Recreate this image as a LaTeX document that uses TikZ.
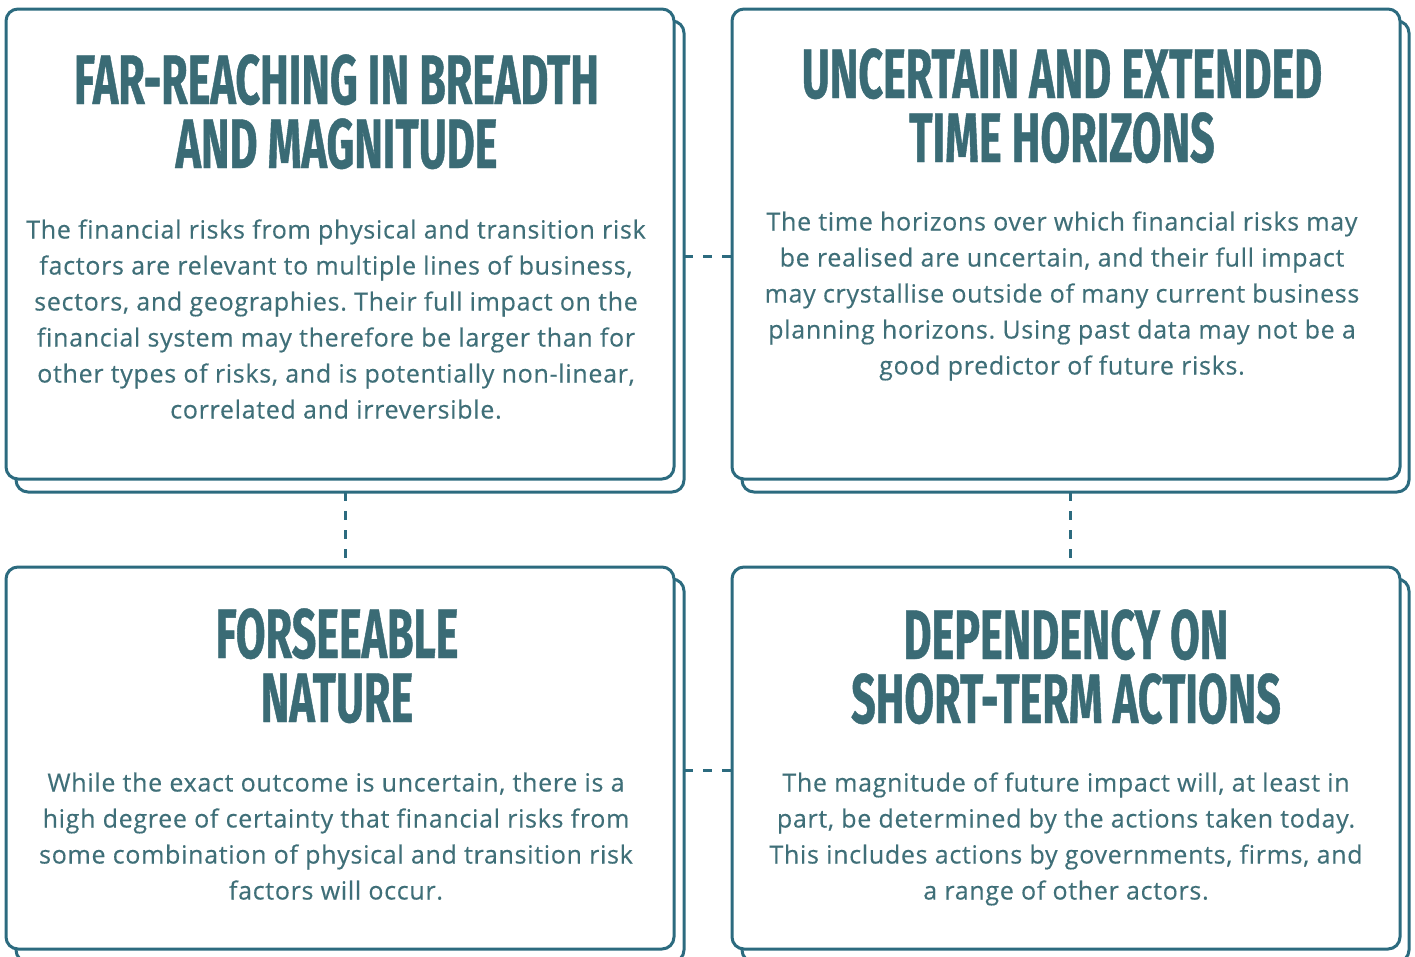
\documentclass[tikz,border=0pt]{standalone}
\usepackage{fontspec}
\setmainfont{Open Sans}[Ligatures=NoCommon, LetterSpace=2.8, FakeBold=0.3]
\newfontfamily\titlefont{Fira Sans}[FakeStretch=0.615, FakeBold=0.6]
\usetikzlibrary{calc}
\frenchspacing
\definecolor{boxline}{HTML}{2C6B7F}
\definecolor{titlecol}{HTML}{3A6B75}
\definecolor{bodycol}{HTML}{3F6F78}
\tikzset{
  card/.style={draw=boxline, line width=3pt, rounded corners=12pt, fill=white,
    inner sep=0pt, outer sep=0pt, rectangle},
  conn/.style={draw=boxline, line width=3pt, dash pattern=on 9pt off 10pt},
  ttl/.style={anchor=base, text=titlecol, font=\titlefont\bfseries\fontsize{70}{64}\selectfont, inner sep=0pt},
  bdy/.style={anchor=base, text=bodycol, font=\fontsize{25}{36}\selectfont, inner sep=0pt},
}
\begin{document}
\begin{tikzpicture}[x=1pt,y=-1pt]
\useasboundingbox (0,0) rectangle (1415,956);
% back cards
\node[card, minimum width=668pt, minimum height=471pt] (b1) at (350,256.5) {};
\node[card, minimum width=667pt, minimum height=471pt] (b2) at (1075.5,256.5) {};
\node[card, minimum width=668pt, minimum height=383pt] (b3) at (350,770.5) {};
\node[card, minimum width=667pt, minimum height=383pt] (b4) at (1075.5,770.5) {};
% front cards
\node[card, minimum width=668pt, minimum height=470pt] (f1) at (340,244) {};
\node[card, minimum width=668pt, minimum height=470pt] (f2) at (1066,244) {};
\node[card, minimum width=668pt, minimum height=382pt] (f3) at (340,758) {};
\node[card, minimum width=668pt, minimum height=382pt] (f4) at (1066,758) {};
% connectors
\coordinate (m1) at ($(f1.south)!0.5!(b1.south)$);
\coordinate (m2) at ($(f2.south)!0.5!(b2.south)$);
\draw[conn] (b1.east) -- (f2.west |- b1.east);
\draw[conn] (b3.east) -- (f4.west |- b3.east);
\draw[conn] (m1 |- b1.south) -- (m1 |- f3.north);
\draw[conn] (m2 |- b2.south) -- (m2 |- f4.north);
% titles
\node[ttl] (t1a) at (336.5,104) {FAR-REACHING IN BREADTH};
\node[ttl] (t1b) at (336.5,168) {AND MAGNITUDE};
\node[ttl] (t2a) at (1062,98) {UNCERTAIN AND EXTENDED};
\node[ttl] (t2b) at (1062,162) {TIME HORIZONS};
\node[ttl] (t3a) at (337,658) {FORSEEABLE};
\node[ttl] (t3b) at (337,722) {NATURE};
\node[ttl] (t4a) at (1066,659) {DEPENDENCY ON};
\node[ttl] (t4b) at (1066,723) {SHORT-TERM ACTIONS};
% bodies
\node[bdy] (p1a) at (336,238.5) {The financial risks from physical and transition risk};
\node[bdy] (p1b) at (336,274.5) {factors are relevant to multiple lines of business,};
\node[bdy] (p1c) at (336,310.5) {sectors, and geographies. Their full impact on the};
\node[bdy] (p1d) at (336,346.5) {financial system may therefore be larger than for};
\node[bdy] (p1e) at (336,382.5) {other types of risks, and is potentially non-linear,};
\node[bdy] (p1f) at (336,418.5) {correlated and irreversible.};
\node[bdy] (p2a) at (1062,230.5) {The time horizons over which financial risks may};
\node[bdy] (p2b) at (1062,266.5) {be realised are uncertain, and their full impact};
\node[bdy] (p2c) at (1062,302.5) {may crystallise outside of many current business};
\node[bdy] (p2d) at (1062,338.5) {planning horizons. Using past data may not be a};
\node[bdy] (p2e) at (1062,374.5) {good predictor of future risks.};
\node[bdy] (p3a) at (336,791.5) {While the exact outcome is uncertain, there is a};
\node[bdy] (p3b) at (336,827.5) {high degree of certainty that financial risks from};
\node[bdy] (p3c) at (336,863.5) {some combination of physical and transition risk};
\node[bdy] (p3d) at (336,899.5) {factors will occur.};
\node[bdy] (p4a) at (1066,791.5) {The magnitude of future impact will, at least in};
\node[bdy] (p4b) at (1066,827.5) {part, be determined by the actions taken today.};
\node[bdy] (p4c) at (1066,863.5) {This includes actions by governments, firms, and};
\node[bdy] (p4d) at (1066,899.5) {a range of other actors.};
\end{tikzpicture}
\end{document}
